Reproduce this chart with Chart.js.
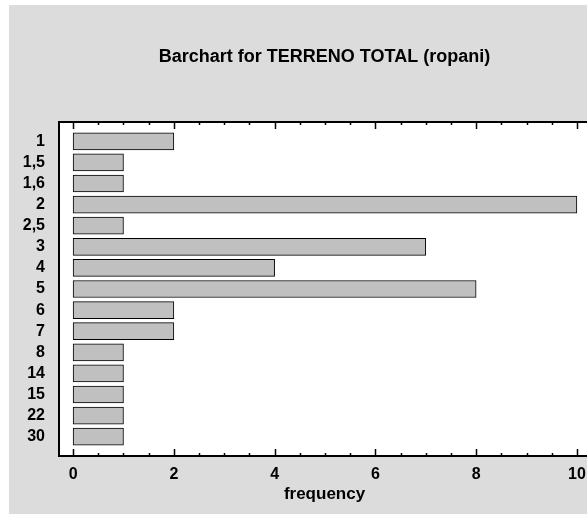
<!DOCTYPE html>
<html>
<head>
<meta charset="utf-8">
<script src="https://cdn.jsdelivr.net/npm/chart.js@4/dist/chart.umd.min.js"></script>
<style>
	html, body { margin: 0; padding: 0; background: #fff; overflow: hidden; }
	#wrap { position: absolute; left: 9px; top: 5px; width: 620px; height: 509px; }
</style>
</head>
<body>
<div id="wrap"><canvas id="bar-chart" width="620" height="509"></canvas></div>
<script>
// values
const categories = ['1', '1,5', '1,6', '2', '2,5', '3', '4', '5', '6', '7', '8', '14', '15', '22', '30'];
const frequencies = [2, 1, 1, 10, 1, 7, 4, 8, 2, 2, 1, 1, 1, 1, 1];
const xTicks = [0, 2, 4, 6, 8, 10];
const minorStep = 0.5;

const FONT = "'Liberation Sans', Arial, sans-serif";

/* gray panel, white plot, frame and tick marks */
const framePlugin = {
	id: 'frame',
	beforeDraw: function (chart) {
		const ctx = chart.ctx;
		const a = chart.chartArea;
		ctx.save();
		ctx.fillStyle = '#dcdcdc';
		ctx.fillRect(0, 0, chart.width, chart.height);
		ctx.fillStyle = '#ffffff';
		ctx.fillRect(a.left, a.top, a.right - a.left, a.bottom - a.top);
		ctx.restore();
	},
	afterDraw: function (chart) {
		const ctx = chart.ctx;
		const a = chart.chartArea;
		const xs = chart.scales.x;
		ctx.save();
		ctx.strokeStyle = '#000';
		ctx.lineWidth = 2;
		ctx.strokeRect(a.left, a.top, a.right - a.left, a.bottom - a.top);
		ctx.lineWidth = 1.5;
		ctx.beginPath();
		for (let v = 0; v <= xs.max + 1e-9; v += minorStep) {
			const px = Math.round(xs.getPixelForValue(v)) + 0.5;
			const len = xTicks.indexOf(v) >= 0 ? 7 : 3;
			ctx.moveTo(px, a.bottom);
			ctx.lineTo(px, a.bottom - len);
			ctx.moveTo(px, a.top);
			ctx.lineTo(px, a.top + len);
		}
		ctx.stroke();
		ctx.restore();
	}
};

new Chart(document.getElementById('bar-chart').getContext('2d'), {
	type: 'bar',
	data: {
		datasets: [
			{
				label: 'frequency',
				data: frequencies.map(function (f, i) { return { x: f, y: i }; }),
				backgroundColor: '#c0c0c0',
				borderColor: '#000',
				borderWidth: 1,
				borderSkipped: false,
				barThickness: 17
			}
		]
	},
	options: {
		indexAxis: 'y',
		responsive: false,
		animation: false,
		events: [],
		layout: { padding: { left: 0, right: 39, top: 0, bottom: 0 } },
		plugins: {
			legend: { display: false },
			tooltip: { enabled: false },
			title: {
				display: true,
				text: 'Barchart for TERRENO TOTAL (ropani)',
				fullSize: false,
				color: '#000',
				font: { family: FONT, size: 18, weight: 'bold' },
				padding: { top: 41.7, bottom: 53.7 }
			}
		},
		scales: {
			x: {
				type: 'linear',
				min: -0.28,
				max: 10.26,
				grid: { display: false, drawTicks: false },
				border: { display: false },
				afterBuildTicks: function (scale) {
					scale.ticks = xTicks.map(function (v) { return { value: v }; });
				},
				afterFit: function (scale) { scale.height = 58; },
				ticks: {
					autoSkip: false,
					maxRotation: 0,
					padding: 9,
					color: '#000',
					font: { family: FONT, size: 16, weight: 'bold' }
				},
				title: {
					display: true,
					text: 'frequency',
					color: '#000',
					font: { family: FONT, size: 17, weight: 'bold' },
					padding: { top: 9, bottom: 9 }
				}
			},
			y: {
				type: 'linear',
				reverse: true,
				offset: false,
				min: -0.915,
				max: 14.915,
				grid: { display: false, drawTicks: false },
				border: { display: false },
				afterBuildTicks: function (scale) {
					scale.ticks = categories.map(function (c, i) { return { value: i }; });
				},
				afterFit: function (scale) { scale.width = 50; },
				ticks: {
					autoSkip: false,
					padding: 14,
					color: '#000',
					font: { family: FONT, size: 16, weight: 'bold' },
					callback: function (v) { return categories[v]; }
				}
			}
		}
	},
	plugins: [framePlugin]
});
</script>
</body>
</html>
